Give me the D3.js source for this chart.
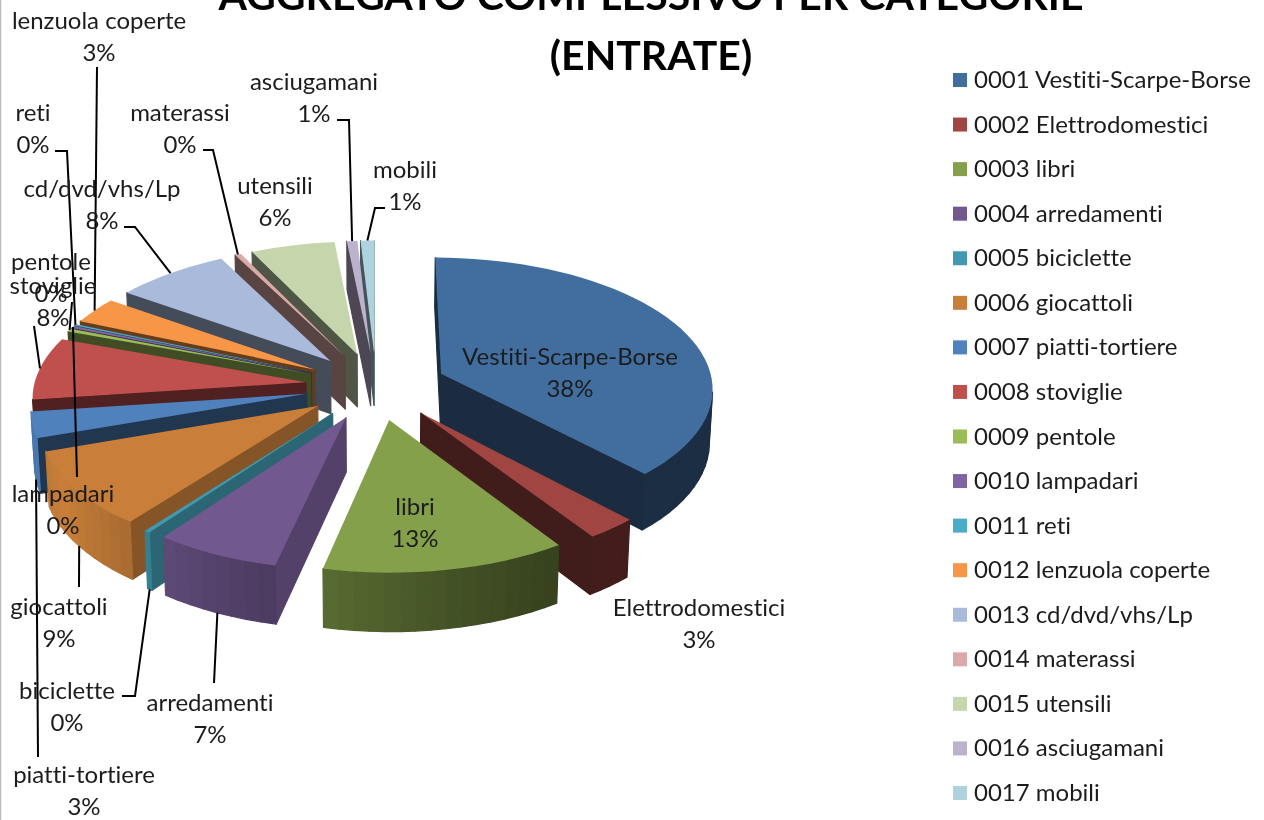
<!DOCTYPE html>
<html><head><meta charset="utf-8">
<script src="https://cdn.jsdelivr.net/npm/d3@7/dist/d3.min.js"></script>
<style>html,body{margin:0;padding:0;background:#fff;overflow:hidden}svg{display:block;font-family:Lato,"Open Sans",sans-serif;font-variant-ligatures:none;filter:blur(0.4px)}</style>
</head><body><svg id="c" width="1264" height="820"></svg>
<script>
// DATA
const categories = ["Vestiti-Scarpe-Borse","Elettrodomestici","libri","arredamenti","biciclette","giocattoli","piatti-tortiere","stoviglie","pentole","lampadari","reti","lenzuola coperte","cd/dvd/vhs/Lp","materassi","utensili","asciugamani","mobili"];
const values = [38,2.7,12.8,6.6,0.3,9.3,3.2,7.7,0.4,0.3,0.2,3.3,7.6,0.4,5.6,0.7,0.9];
const titleLines = ["AGGREGATO COMPLESSIVO PER CATEGORIE","(ENTRATE)"];
// STYLE
const colors = ["#426e9f","#a04541","#84a04a","#71588f","#4198af","#c97f3a","#4f81bd","#c0504d","#9bbb59","#8064a2","#4bacc6","#f79646","#aabada","#dba9a8","#c6d6ac","#bdb2cd","#aed2de"];
// LAYOUT
const labelPos = [[570,365],[699,616],[415,515],[210,711],[67,699],[59,615],[84,783],[53,294],[51,270],[63,502],[33,121],[99,29],[102,197],[180,121],[275,194],[314,90],[405,178]];
const leaders = [
 {i:3,z:1,via:[[214,683]]},{i:4,z:1,via:[[122,696],[135,696]]},{i:5,z:1,via:[[79,587]]},
 {i:6,z:1,via:[[38,757]]},{i:7,z:0,via:[[34,326]]},{i:8,z:0,via:[[72,302]]},
 {i:9,z:0,via:[[77,477]]},{i:10,z:0,via:[[55,151],[67,151]]},{i:11,z:0,via:[[97,67]]},
 {i:12,z:0,via:[[124,227],[135,227]]},{i:13,z:0,via:[[203,150],[213,150]]},
 {i:15,z:0,via:[[337,120],[349,120]]},{i:16,z:0,via:[[385,208],[375,208]]}
];
const geo = {cx:376, cy:386, a:272, b:130, h:54, k:0.1, m:0.01, explode:0.26};

const svg = d3.select("#c");
const total = d3.sum(values);
const color = d3.scaleOrdinal(categories, colors);
const slices = d3.pie().sort(null).value(d=>d)(values).map((d,i)=>({...d,i,name:categories[i],mid:(d.startAngle+d.endAngle)/2}));

function ground(s,ang,r){ // ground plane coordinates: X right, Y toward viewer
  return [Math.sin(s.mid)*geo.explode+Math.sin(ang)*r, -Math.cos(s.mid)*geo.explode-Math.cos(ang)*r];
}
function project(p,z){
  const s = 1/(1-geo.k*p[1]+geo.m*z);
  return [geo.cx+s*p[0]*geo.a, geo.cy+s*(p[1]*geo.b+z*geo.h)];
}
const pt = (s,ang,r,z)=>project(ground(s,ang,r),z);
const line = d3.line();
const closed = pts=>line(pts)+"Z";
const area2 = pts=>d3.polygonArea(pts);

const deg = d=>d*Math.PI/180;
const outerShade = d3.scaleLinear().domain([90,150,170,200,240,270,360].map(deg)).range([0.42,0.42,0.52,0.72,1,0.85,0.45]).clamp(true);
const radialShade = d3.scaleLinear().domain([100,130,160,240].map(deg)).range([0.75,0.66,0.42,0.40]).clamp(true);
const shade = (c,f)=>{const r=d3.rgb(c);return d3.rgb(r.r*f,r.g*f,r.b*f).formatHex();};

const pieG = svg.append("g");
const ordered = slices.slice().sort((p,q)=>ground(p,p.mid,0.6)[1]-ground(q,q.mid,0.6)[1]);
ordered.forEach(s=>{
  const g = pieG.append("g").attr("class","slice");
  const base = color(s.name);
  const n = Math.max(2,Math.ceil((s.endAngle-s.startAngle)/(Math.PI/60)));
  const angs = d3.range(n+1).map(j=>s.startAngle+(s.endAngle-s.startAngle)*j/n);
  const faces = [];
  [[s.startAngle,s.startAngle-Math.PI/2,1],[s.endAngle,s.endAngle+Math.PI/2,-1]].forEach(([ang,nor,dir])=>{
    const q=[pt(s,ang,0,0),pt(s,ang,1,0),pt(s,ang,1,1),pt(s,ang,0,1)];
    faces.push({q,f:radialShade((nor+4*Math.PI)%(2*Math.PI)),dir,y:ground(s,ang,0.5)[1]});
  });
  d3.pairs(angs).forEach(([a0,a1])=>{
    const q=[pt(s,a0,1,0),pt(s,a1,1,0),pt(s,a1,1,1),pt(s,a0,1,1)];
    faces.push({q,f:outerShade((a0+a1)/2),dir:0,y:ground(s,(a0+a1)/2,1)[1]});
  });
  const visible = faces.filter(d=>{
    const ar=area2(d.q);
    return d.dir===-1 ? ar<0 : ar>0;
  }).sort((p,q)=>p.y-q.y);
  g.selectAll("path.wall").data(visible).join("path").attr("class","wall")
    .attr("d",d=>closed(d.q)).attr("fill",d=>shade(base,d.f)).attr("stroke",d=>shade(base,d.f)).attr("stroke-width",1.2).attr("stroke-linejoin","round");
  const top=[pt(s,s.startAngle,0,0),...angs.map(a=>pt(s,a,1,0))];
  g.append("path").attr("class","top").attr("d",closed(top)).attr("fill",base);
});

// leaders
svg.append("g").selectAll("path").data(leaders).join("path")
  .attr("d",d=>{const s=slices[d.i];return line([...d.via,pt(s,s.mid,1,d.z)]);})
  .attr("fill","none").attr("stroke","#000").attr("stroke-width",2);

// labels
const lab = svg.append("g").attr("font-size",24).attr("fill","#1c1c1c").attr("text-anchor","middle");
slices.forEach(s=>{
  const [x,y]=labelPos[s.i];
  const t=lab.append("text").attr("x",x).attr("y",y);
  t.append("tspan").attr("x",x).text(s.name);
  t.append("tspan").attr("x",x).attr("dy",32).text(Math.round(s.value/total*100)+"%");
});

// title
svg.append("g").attr("font-size",41).attr("font-weight",700).attr("fill","#000").attr("text-anchor","middle")
 .selectAll("text").data(titleLines).join("text").attr("x",651).attr("y",(d,i)=>10+i*60).text(d=>d);

// legend
const rows = d3.scalePoint().domain(categories).range([80,793]);
const leg = svg.append("g").selectAll("g").data(categories).join("g").attr("transform",d=>`translate(953,${rows(d)})`);
leg.append("rect").attr("x",0).attr("y",-7).attr("width",14).attr("height",14).attr("fill",d=>color(d));
leg.append("text").attr("x",21).attr("y",8).attr("font-size",24).attr("fill","#1c1c1c")
   .text((d,i)=>d3.format("04d")(i+1)+" "+d);

// left edge of the screenshot
svg.append("line").attr("x1",0.5).attr("x2",0.5).attr("y1",0).attr("y2",820).attr("stroke","#bbb").attr("stroke-width",1.5);
</script></body></html>
